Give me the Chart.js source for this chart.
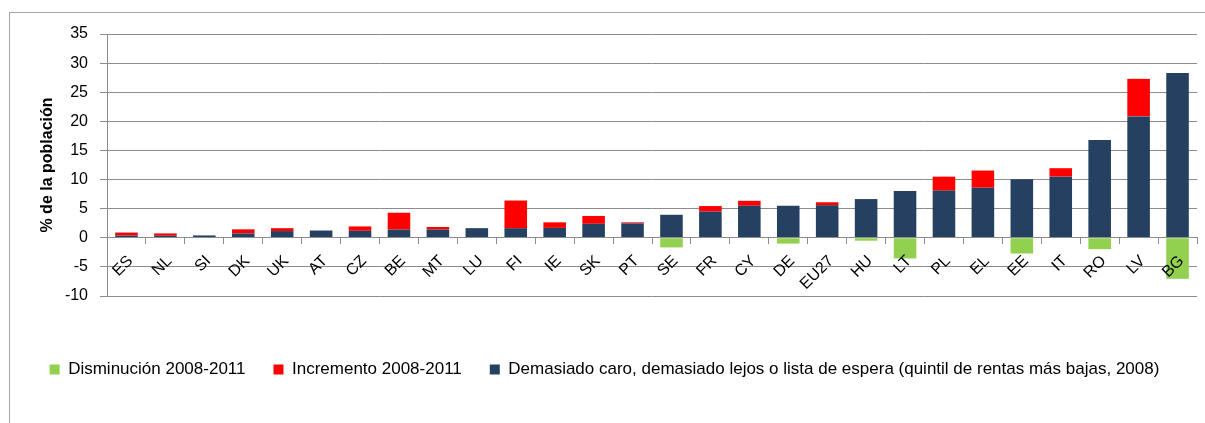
<!DOCTYPE html>
<html>
<head>
<meta charset="utf-8">
<script src="https://cdn.jsdelivr.net/npm/chart.js@4.4.1/dist/chart.umd.min.js"></script>
<style>
  html, body { margin: 0; padding: 0; background: #fff; }
  #wrap { position: relative; width: 1205px; height: 423px; }
  #frame { position: absolute; left: 9px; top: 12px; right: -2px; bottom: -2px;
           border-left: 1px solid #a6a6a6; border-top: 1px solid #a6a6a6; pointer-events: none; }
  canvas { position: absolute; left: 0; top: 0; }
</style>
</head>
<body>
<div id="wrap">
  <div id="frame"></div>
  <canvas id="chart1" width="1205" height="423"></canvas>
</div>
<script>
// countries, ordered as in the source figure
const countries = ["ES", "NL", "SI", "DK", "UK", "AT", "CZ", "BE", "MT", "LU", "FI", "IE", "SK", "PT",
                   "SE", "FR", "CY", "DE", "EU27", "HU", "LT", "PL", "EL", "EE", "IT", "RO", "LV", "BG"];

// demasiado caro / lejos / lista de espera, quintil bajo 2008
const base2008 = [0.4, 0.35, 0.4, 0.75, 1.15, 1.25, 1.2, 1.4, 1.4, 1.65, 1.65, 1.7, 2.4, 2.45,
                  3.95, 4.5, 5.5, 5.5, 5.6, 6.65, 8.05, 8.1, 8.6, 10.05, 10.5, 16.8, 20.85, 28.3];

// incremento 2008-2011
const increase = [0.5, 0.4, 0, 0.7, 0.5, 0, 0.75, 2.9, 0.45, 0, 4.75, 0.95, 1.35, 0.2,
                  0, 0.95, 0.85, 0, 0.5, 0, 0, 2.4, 2.95, 0, 1.45, 0, 6.45, 0];

// disminución 2008-2011
const decrease = [0, 0, 0, 0, 0, 0, 0, 0, 0, 0, 0, 0, 0, 0,
                  -1.65, 0, 0, -1.0, 0, -0.5, -3.55, 0, 0, -2.7, 0, -1.95, 0, -7.05];

const yTicks = [35, 30, 25, 20, 15, 10, 5, 0, -5, -10];

const FONT = "'Liberation Sans', Arial, sans-serif";
const gridGray = "#8c8c8c";

const ctx = document.getElementById("chart1").getContext("2d");

new Chart(ctx, {
    type: "bar",
    data: {
        labels: countries,
        datasets: [
            {
                label: "Demasiado caro, demasiado lejos o lista de espera (quintil de rentas más bajas, 2008)",
                data: base2008,
                backgroundColor: "#254061"
            },
            {
                label: "Incremento 2008-2011",
                data: increase,
                backgroundColor: "#ff0000"
            },
            {
                label: "Disminución 2008-2011",
                data: decrease,
                backgroundColor: "#92d050"
            }
        ]
    },
    options: {
        responsive: false,
        animation: false,
        layout: {
            padding: { left: 12, right: 8, top: 34, bottom: 35 }
        },
        datasets: {
            bar: { barPercentage: 0.58, categoryPercentage: 1.0 }
        },
        scales: {
            x: {
                stacked: true,
                position: { y: 0 },
                grid: {
                    drawOnChartArea: false,
                    drawTicks: true,
                    tickLength: 6,
                    color: gridGray,
                    offset: true
                },
                border: { color: gridGray, width: 1, z: 1 },
                ticks: {
                    z: 1, // labels drawn over the negative bars, like the original
                    color: "#000",
                    font: { family: FONT, size: 16 },
                    minRotation: 45,
                    maxRotation: 45,
                    autoSkip: false,
                    padding: 8,
                    labelOffset: 4
                }
            },
            y: {
                stacked: true,
                min: -10,
                max: 35,
                afterBuildTicks: (scale) => {
                    scale.ticks = yTicks.map(v => ({ value: v }));
                },
                afterFit: (scale) => {
                    scale.width = 95;
                },
                grid: {
                    color: gridGray,
                    tickLength: 7,
                    lineWidth: 1
                },
                border: { color: gridGray, width: 1 },
                ticks: {
                    color: "#000",
                    font: { family: FONT, size: 16 },
                    padding: 12
                },
                title: {
                    display: true,
                    text: "% de la población",
                    color: "#000",
                    font: { family: FONT, size: 16, weight: "bold" },
                    padding: { top: 26, bottom: 0 }
                }
            }
        },
        plugins: {
            legend: {
                position: "bottom",
                reverse: true,
                title: {
                    display: true,
                    text: "",
                    font: { size: 10, lineHeight: 1 },
                    padding: { top: 27, bottom: 0 }
                },
                labels: {
                    color: "#000",
                    font: { family: FONT, size: 17 },
                    boxWidth: 10,
                    boxHeight: 10,
                    padding: 28
                }
            },
            tooltip: { enabled: false }
        }
    }
});
</script>
</body>
</html>
